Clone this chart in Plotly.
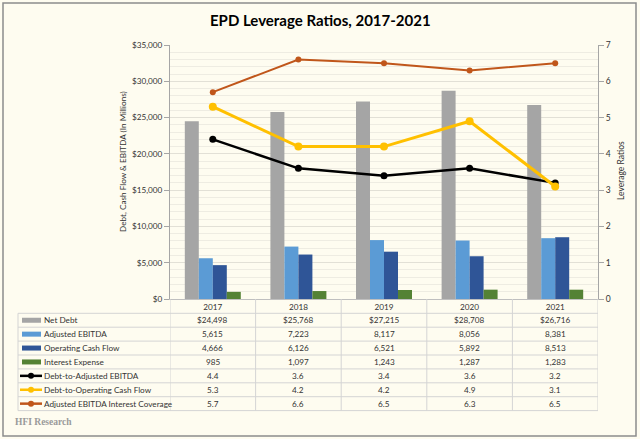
import plotly.graph_objects as go

years = ["2017", "2018", "2019", "2020", "2021"]
net_debt = [24498, 25768, 27215, 28708, 26716]
adj_ebitda = [5615, 7223, 8117, 8056, 8381]
op_cash_flow = [4666, 6126, 6521, 5892, 8513]
interest_exp = [985, 1097, 1243, 1287, 1283]
debt_to_ebitda = [4.4, 3.6, 3.4, 3.6, 3.2]
debt_to_ocf = [5.3, 4.2, 4.2, 4.9, 3.1]
interest_cov = [5.7, 6.6, 6.5, 6.3, 6.5]

title_text = "EPD Leverage Ratios, 2017-2021"
left_title = "Debt, Cash Flow & EBITDA (In Millions)"
right_title = "Leverage Ratios"
footer = "HFI Research"

FONT = "Lato"
FS = 8.2
TXT = "#333333"
BG = "#FEFCF0"
GRID = "#E2E0D6"

W, H = 640, 439
ML, MR, MT, MB = 170, 42, 45, 140
PW = W - ML - MR
PH = H - MT - MB

xi = list(range(len(years)))


def px(x):
    return (x - ML) / PW


def py(y):
    return (H - MB - y) / PH


fig = go.Figure()

bar_series = [
    ("Net Debt", net_debt, "#A5A5A5", "${:,}"),
    ("Adjusted EBITDA", adj_ebitda, "#5B9BD5", "{:,}"),
    ("Operating Cash Flow", op_cash_flow, "#2F5597", "{:,}"),
    ("Interest Expense", interest_exp, "#548235", "{:,}"),
]
line_series = [
    ("Debt-to-Adjusted EBITDA", debt_to_ebitda, "#000000", 2.5, 7, "{:.1f}"),
    ("Debt-to-Operating Cash Flow", debt_to_ocf, "#FFC000", 3, 8, "{:.1f}"),
    ("Adjusted EBITDA Interest Coverage", interest_cov, "#C0561A", 2, 6, "{:.1f}"),
]

for name, vals, col, _ in bar_series:
    fig.add_trace(go.Bar(x=xi, y=vals, name=name, marker=dict(color=col, line=dict(width=0))))

for name, vals, col, lw, ms, _ in line_series:
    fig.add_trace(go.Scatter(x=xi, y=vals, name=name, yaxis="y2", mode="lines+markers",
                             line=dict(color=col, width=lw),
                             marker=dict(color=col, size=ms)))

shapes = []
annotations = []

row_top = 313.3
row_h = 13.9
n_rows = 7
table_bottom = row_top + n_rows * row_h
LINEC = "#D4D4D4"

for k in range(n_rows + 1):
    yy = row_top + k * row_h
    shapes.append(dict(type="line", xref="paper", yref="paper", x0=px(18), x1=px(598),
                       y0=py(yy), y1=py(yy), line=dict(color=LINEC, width=1)))
shapes.append(dict(type="line", xref="paper", yref="paper", x0=px(18), x1=px(18),
                   y0=py(row_top), y1=py(table_bottom), line=dict(color=LINEC, width=1)))
for b in [-0.5, 0.5, 1.5, 2.5, 3.5, 4.5]:
    shapes.append(dict(type="line", xref="x", yref="paper", x0=b, x1=b,
                       y0=py(299), y1=py(table_bottom), line=dict(color=LINEC, width=1)))

rows = [(n, v, c, "bar", f) for n, v, c, f in bar_series] + \
       [(n, v, c, "line", f) for n, v, c, lw, ms, f in line_series]

for i, (name, vals, col, kind, fmt) in enumerate(rows):
    yc = row_top + (i + 0.5) * row_h
    if kind == "bar":
        shapes.append(dict(type="rect", xref="paper", yref="paper", x0=px(22), x1=px(41),
                           y0=py(yc + 2.5), y1=py(yc - 2.5), fillcolor=col, line=dict(width=0)))
    else:
        shapes.append(dict(type="line", xref="paper", yref="paper", x0=px(20), x1=px(42),
                           y0=py(yc), y1=py(yc), line=dict(color=col, width=2.5)))
        shapes.append(dict(type="circle", xref="paper", yref="paper", x0=px(28), x1=px(34),
                           y0=py(yc + 3), y1=py(yc - 3), fillcolor=col, line=dict(width=0)))
    annotations.append(dict(text=name, xref="paper", yref="paper", x=px(42), y=py(yc),
                            xanchor="left", yanchor="middle", showarrow=False,
                            font=dict(family=FONT, size=FS, color=TXT)))
    for j, v in zip(xi, vals):
        annotations.append(dict(text=fmt.format(v), xref="x", yref="paper", x=j, y=py(yc),
                                xanchor="center", yanchor="middle", showarrow=False,
                                font=dict(family=FONT, size=FS, color=TXT)))

annotations.append(dict(text="<b>" + title_text + "</b>", xref="paper", yref="paper",
                        x=px(320), y=py(20), xanchor="center", yanchor="middle", showarrow=False,
                        font=dict(family=FONT, size=15, color="#000000")))
annotations.append(dict(text=left_title, xref="paper", yref="paper", x=px(123), y=py(162),
                        xanchor="center", yanchor="middle", textangle=-90, showarrow=False,
                        font=dict(family=FONT, size=FS, color=TXT)))
annotations.append(dict(text=right_title, xref="paper", yref="paper", x=px(621), y=py(171),
                        xanchor="center", yanchor="middle", textangle=-90, showarrow=False,
                        font=dict(family=FONT, size=8.5, color=TXT)))
annotations.append(dict(text="<b>" + footer + "</b>", xref="paper", yref="paper", x=px(13), y=py(422),
                        xanchor="left", yanchor="middle", showarrow=False,
                        font=dict(family="Liberation Serif", size=9.5, color="#9A9A9A")))

shapes.append(dict(type="rect", xref="paper", yref="paper", x0=px(3), x1=px(636),
                   y0=py(3), y1=py(436), line=dict(color="#8C8C8C", width=1.5)))

fig.update_layout(
    width=W, height=H,
    margin=dict(l=ML, r=MR, t=MT, b=MB, autoexpand=False),
    paper_bgcolor=BG, plot_bgcolor=BG,
    showlegend=False,
    barmode="group", bargap=0.346, bargroupgap=0,
    font=dict(family=FONT, size=FS, color=TXT),
    xaxis=dict(range=[-0.5, 4.5], tickmode="array", tickvals=xi, ticktext=years,
               showgrid=False, zeroline=False, showline=True, linecolor="#BFBFBF", linewidth=1,
               ticks="", tickfont=dict(family=FONT, size=FS, color=TXT)),
    yaxis=dict(range=[0, 35000], dtick=5000, tickprefix="$", tickformat=",",
               showline=True, linecolor="#A6A6A6", linewidth=1,
               ticks="outside", ticklen=5, tickcolor="#A6A6A6",
               gridcolor=GRID, gridwidth=1, zeroline=False,
               minor=dict(dtick=1000, showgrid=True, gridcolor="#EEECE2", gridwidth=1),
               tickfont=dict(family=FONT, size=FS, color=TXT)),
    yaxis2=dict(range=[0, 7], dtick=1, overlaying="y", side="right",
                showgrid=False, zeroline=False, showline=True, linecolor="#A6A6A6",
                ticks="outside", ticklen=5, tickcolor="#A6A6A6",
                tickfont=dict(family=FONT, size=8.5, color=TXT)),
    shapes=shapes, annotations=annotations,
)

fig.write_html("out.html", config={"displayModeBar": False},
               post_script="document.body.style.margin='0';document.body.style.overflow='hidden';")
